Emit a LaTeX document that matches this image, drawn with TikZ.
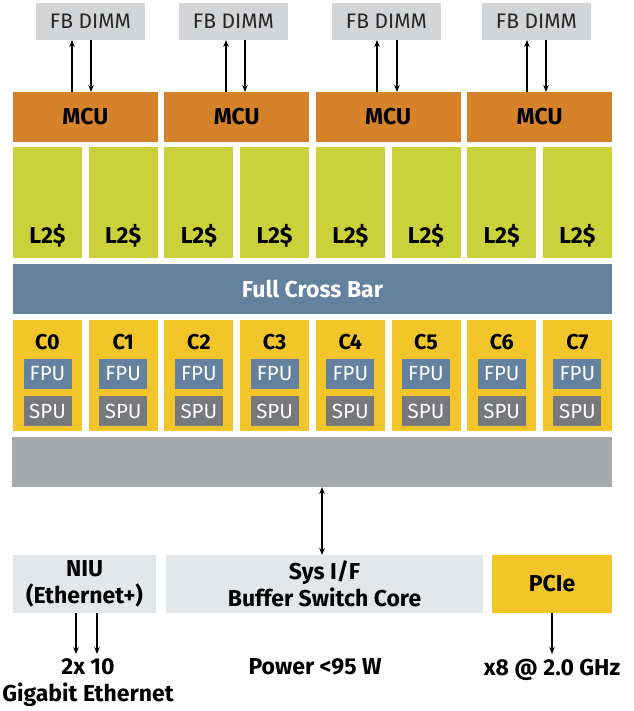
\documentclass[tikz,border=0pt]{standalone}
\usepackage{fontspec}
\setmainfont{Fira Sans}
\usepackage{tikz}
\usetikzlibrary{arrows.meta,positioning}
\definecolor{dimmGrey}{HTML}{D4D5D7}
\definecolor{mcuOrange}{HTML}{D6822A}
\definecolor{cacheGreen}{HTML}{CBD13A}
\definecolor{barBlue}{HTML}{64819F}
\definecolor{coreYellow}{HTML}{F2C62B}
\definecolor{spuGrey}{HTML}{77787B}
\definecolor{ioGrey}{HTML}{A8A9AB}
\definecolor{sysGrey}{HTML}{E3E7EA}

\begin{document}
\begin{tikzpicture}[x=1pt, y=-1pt,
    every node/.style={inner sep=0pt, outer sep=0pt, font=\fontsize{23}{27}\selectfont\bfseries},
    blk/.style={rectangle, anchor=north west},
    dimm/.style={blk, fill=dimmGrey, minimum width=109pt, minimum height=37pt, font=\fontsize{21}{25}\selectfont, text=black!85},
    mcu/.style={blk, fill=mcuOrange, minimum width=144.7pt, minimum height=50pt},
    cache/.style={blk, fill=cacheGreen, minimum width=69pt, minimum height=111pt},
    core/.style={blk, fill=coreYellow, minimum width=69pt, minimum height=111pt},
    unit/.style={rectangle, anchor=north, minimum width=48pt, minimum height=30pt, text=white, font=\fontsize{20.5}{24}\selectfont},
    io/.style={blk, minimum height=58pt, align=center},
    link/.style={-{Stealth[length=7pt,width=5.5pt]}, line width=1.1pt},
    dlink/.style={{Stealth[length=7pt,width=5.5pt]}-{Stealth[length=7pt,width=5.5pt]}, line width=1.1pt}
]
\useasboundingbox (0,0) rectangle (633,711);

\foreach \j/\dx/\ux/\vx in {0/36/72/91, 1/179/226/245, 2/332/377/397, 3/482/527/546} {
    \node[dimm] (dimm\j) at (\dx,3) {FB DIMM};
    \node[mcu] (mcu\j) at ({13+151.4*\j},92) {MCU};
    \coordinate (up\j) at (\ux,0);
    \coordinate (dn\j) at (\vx,0);
    \draw[link] (mcu\j.north -| up\j) -- (dimm\j.south -| up\j);
    \draw[link] (dimm\j.south -| dn\j) -- (mcu\j.north -| dn\j);
}

\foreach \i in {0,...,7} {
    \node[cache] (l2\i) at ({13+75.7*\i},147) {};
    \node[anchor=base] (l2t\i) at ([yshift=15pt]l2\i.south) {L2\$};
    \node[core] (core\i) at ({13+75.7*\i},320) {};
    \node[anchor=base, font=\fontsize{21.5}{25}\selectfont\bfseries] (cn\i) at ([yshift=-29pt]core\i.north) {C\i};
    \node[unit, fill=barBlue] (fpu\i) at ([yshift=-39pt]core\i.north) {FPU};
    \node[unit, fill=spuGrey] (spu\i) at ([yshift=-76pt]core\i.north) {SPU};
}

\node[blk, fill=barBlue, minimum width=599pt, minimum height=50pt, text=white] (xbar) at (13,264) {Full Cross Bar};
\node[blk, fill=ioGrey, minimum width=600pt, minimum height=50pt] (iobar) at (12,437) {};

\node[io, fill=sysGrey, minimum width=143pt] (niu) at (13,555) {NIU\\(Ethernet+)};
\node[io, fill=sysGrey, minimum width=317pt] (sysif) at (166,555) {Sys I/F\\Buffer Switch Core};
\node[io, fill=coreYellow, minimum width=120pt] (pcie) at (492,555) {PCIe};

\node[anchor=north, align=center] (eth) at (88,659) {2x 10\\Gigabit Ethernet};
\node[anchor=north] (power) at (315,659) {Power <95 W};
\node[anchor=north] (speed) at (552,659) {x8 @ 2.0 GHz};

\coordinate (vx) at (322,0);
\coordinate (e1) at (76,0);
\coordinate (e2) at (97,0);
\draw[dlink] (iobar.south -| vx) -- (sysif.north -| vx);
\draw[link] (niu.south -| e1) -- ([yshift=5pt]eth.north -| e1);
\draw[link] (niu.south -| e2) -- ([yshift=5pt]eth.north -| e2);
\draw[link] (pcie.south) -- ([yshift=5pt]speed.north);
\end{tikzpicture}
\end{document}
